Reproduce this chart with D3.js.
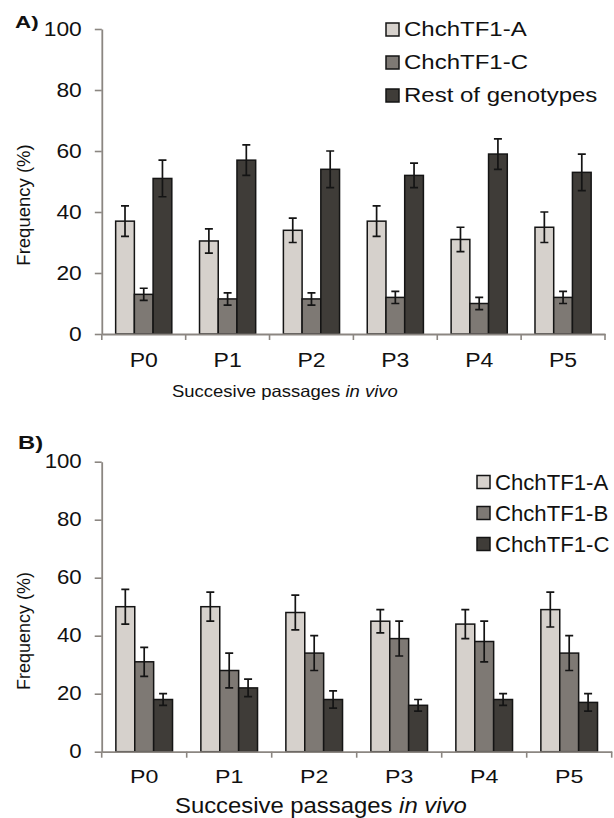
<!DOCTYPE html>
<html>
<head>
<meta charset="utf-8">
<script src="https://cdn.jsdelivr.net/npm/d3@7"></script>
<style>
  html, body { margin: 0; padding: 0; background: #fff; }
  svg { display: block; font-family: "Liberation Sans", Arial, Helvetica, sans-serif; }
</style>
</head>
<body>
<svg id="fig" width="614" height="818"></svg>
<script>
// ---- data ----
const categories = ["P0", "P1", "P2", "P3", "P4", "P5"];
const yTicks = [0, 20, 40, 60, 80, 100];

// Panel A
const namesA = ["ChchTF1-A", "ChchTF1-C", "Rest of genotypes"];
const aTF1A = [37, 30.5, 34, 37, 31, 35];
const aTF1AErr = [5, 4, 4, 5, 4, 5];
const aTF1C = [13, 11.5, 11.5, 12, 10, 12];
const aTF1CErr = [2, 2, 2, 2, 2, 2];
const aRest = [51, 57, 54, 52, 59, 53];
const aRestErr = [6, 5, 6, 4, 5, 6];

// Panel B
const namesB = ["ChchTF1-A", "ChchTF1-B", "ChchTF1-C"];
const bTF1A = [50, 50, 48, 45, 44, 49];
const bTF1AErr = [6, 5, 6, 4, 5, 6];
const bTF1B = [31, 28, 34, 39, 38, 34];
const bTF1BErr = [5, 6, 6, 6, 7, 6];
const bTF1C = [18, 22, 18, 16, 18, 17];
const bTF1CErr = [2, 3, 3, 2, 2, 3];

const fills = ["#d6d1cc", "#7e7974", "#3f3c38"];
const axisColor = "#8b8681";
const inkColor = "#141414";

const svg = d3.select("#fig");

// text placed in a horizontally stretched frame
function stretchedText(parent, x, y, sx, opts) {
  const g = parent.append("g").attr("transform", `translate(${x},${y}) scale(${sx},1)`);
  const t = g.append("text")
    .attr("x", 0).attr("y", 0)
    .attr("font-size", opts.size)
    .attr("text-anchor", opts.anchor || "start")
    .attr("font-weight", opts.weight || "normal")
    .attr("fill", opts.fill || "#111");
  return t;
}

function drawPanel(cfg) {
  const g = svg.append("g");
  const y = d3.scaleLinear().domain([0, 100]).range([cfg.y0, cfg.y100]);
  const x0 = d3.scaleBand().domain(categories).range([cfg.xL, cfg.xR]).padding(0);
  const x1 = d3.scaleBand().domain(cfg.names).range([0, x0.bandwidth()])
    .paddingInner(0).paddingOuter(cfg.pad);

  const rows = categories.flatMap((c, i) => cfg.names.map((n, k) => ({
    c, n, k, v: cfg.values[k][i], e: cfg.errors[k][i]
  })));

  // bars
  g.append("g").selectAll("rect").data(rows).join("rect")
    .attr("x", d => x0(d.c) + x1(d.n))
    .attr("y", d => y(d.v))
    .attr("width", x1.bandwidth())
    .attr("height", d => y(0) - y(d.v))
    .attr("fill", d => fills[d.k])
    .attr("stroke", inkColor)
    .attr("stroke-width", 1.5);

  // error bars
  const eb = g.append("g").attr("stroke", inkColor).attr("stroke-width", 1.7).attr("fill", "none");
  const cx = d => x0(d.c) + x1(d.n) + x1.bandwidth() / 2;
  const capW = 4;
  eb.selectAll("path").data(rows).join("path")
    .attr("d", d => {
      const xc = cx(d), yt = y(d.v + d.e), yb = y(d.v - d.e);
      return `M${xc},${yt}V${yb}M${xc - capW},${yt}H${xc + capW}M${xc - capW},${yb}H${xc + capW}`;
    });

  // y axis
  const ya = g.append("g").attr("transform", `translate(${cfg.xL},0)`)
    .call(d3.axisLeft(y).tickValues(yTicks).tickSize(7).tickSizeOuter(0).tickPadding(13));
  ya.select(".domain").attr("stroke", axisColor).attr("stroke-width", 1.8);
  ya.selectAll(".tick line").attr("stroke", axisColor).attr("stroke-width", 1.6);
  ya.selectAll(".tick text")
    .attr("font-size", cfg.tickSize)
    .attr("font-family", null)
    .attr("fill", "#111")
    .attr("x", -20 / cfg.tickSx)
    .attr("transform", `scale(${cfg.tickSx},1)`);

  // x axis: category labels
  const xa = g.append("g").attr("transform", `translate(0,${cfg.y0})`)
    .call(d3.axisBottom(x0).tickSize(0).tickSizeOuter(0).tickPadding(cfg.catPad));
  xa.select(".domain").attr("stroke", axisColor).attr("stroke-width", 1.8);
  xa.selectAll(".tick text")
    .attr("font-size", cfg.catSize)
    .attr("font-family", null)
    .attr("fill", "#111")
    .attr("transform", `scale(${cfg.catSx},1)`);

  // x axis: tick marks on category boundaries
  const bounds = categories.map(c => x0(c)).concat([cfg.xR]);
  xa.append("g").selectAll("line").data(bounds).join("line")
    .attr("x1", d => d).attr("x2", d => d)
    .attr("y1", 0).attr("y2", 6)
    .attr("stroke", axisColor).attr("stroke-width", 1.6);

  // y axis title
  g.append("text")
    .attr("transform", `translate(${cfg.yTitleX},${cfg.yTitleY}) rotate(-90)`)
    .attr("text-anchor", "middle")
    .attr("font-size", cfg.yTitleSize)
    .attr("fill", "#111")
    .text("Frequency (%)");

  // x axis title
  const xt = stretchedText(g, cfg.xTitleX, cfg.xTitleY, cfg.xTitleSx, { size: cfg.xTitleSize });
  xt.append("tspan").text("Succesive passages ");
  xt.append("tspan").attr("font-style", "italic").text("in vivo");

  // panel letter
  stretchedText(g, cfg.letterX, cfg.letterY, cfg.letterSx, { size: cfg.letterSize, weight: "bold" })
    .text(cfg.letter);

  // legend
  const lg = g.append("g");
  cfg.names.forEach((n, k) => {
    const cy = cfg.legY + k * cfg.legStep;
    lg.append("rect")
      .attr("x", cfg.legX).attr("y", cy - cfg.legBox / 2)
      .attr("width", cfg.legBox).attr("height", cfg.legBox)
      .attr("fill", fills[k]).attr("stroke", inkColor).attr("stroke-width", 1.5);
    stretchedText(lg, cfg.legX + cfg.legBox + 5, cy + cfg.legBase, cfg.legSx, { size: cfg.legSize })
      .text(n);
  });
}

drawPanel({
  names: namesA,
  values: [aTF1A, aTF1C, aRest],
  errors: [aTF1AErr, aTF1CErr, aRestErr],
  y0: 334, y100: 29, xL: 101.8, xR: 605, pad: 0.74,
  tickSize: 19.5, tickSx: 1.17,
  catSize: 19.5, catSx: 1.18, catPad: 19,
  yTitleX: 30, yTitleY: 205, yTitleSize: 18.5,
  xTitleX: 172, xTitleY: 397, xTitleSx: 1.12, xTitleSize: 16.5,
  letter: "A)", letterX: 15, letterY: 28, letterSx: 1.4, letterSize: 16,
  legX: 386, legY: 29.5, legStep: 33, legBox: 13, legBase: 6.8, legSx: 1.2, legSize: 20
});

drawPanel({
  names: namesB,
  values: [bTF1A, bTF1B, bTF1C],
  errors: [bTF1AErr, bTF1BErr, bTF1CErr],
  y0: 751.7, y100: 461.7, xL: 101.7, xR: 611.7, pad: 0.75,
  tickSize: 19.5, tickSx: 1.14,
  catSize: 19, catSx: 1.22, catPad: 17.8,
  yTitleX: 30, yTitleY: 631, yTitleSize: 18,
  xTitleX: 175, xTitleY: 813, xTitleSx: 1.085, xTitleSize: 22,
  letter: "B)", letterX: 18, letterY: 449, letterSx: 1.25, letterSize: 19,
  legX: 477, legY: 482, legStep: 31, legBox: 13, legBase: 8, legSx: 1.03, legSize: 21.5
});
</script>
</body>
</html>
